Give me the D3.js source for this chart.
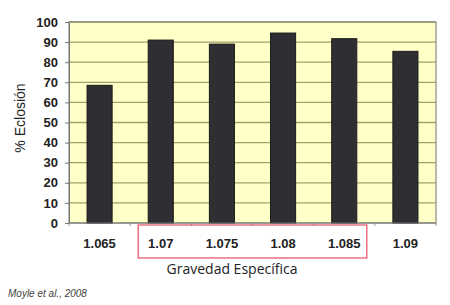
<!DOCTYPE html>
<html>
<head>
<meta charset="utf-8">
<script src="https://cdn.jsdelivr.net/npm/d3@7"></script>
<style>
  body { margin: 0; background: #fff; }
  svg { display: block; }
</style>
</head>
<body>
<div id="chart"></div>
<script>
// data
const gravities = ["1.065", "1.07", "1.075", "1.08", "1.085", "1.09"];
const hatchPct = [68.5, 91, 89, 94.5, 91.7, 85.4];
const yTicks = [0, 10, 20, 30, 40, 50, 60, 70, 80, 90, 100];

const W = 450, H = 305;
const margin = { top: 22, right: 14, bottom: 82, left: 69 };
const width = W - margin.left - margin.right;
const height = H - margin.top - margin.bottom;

const svg = d3.select("#chart").append("svg")
    .attr("width", W)
    .attr("height", H);

const g = svg.append("g")
    .attr("transform", `translate(${margin.left}, ${margin.top})`);

const x = d3.scaleBand()
    .domain(gravities)
    .range([0, width])
    .paddingInner(0.59)
    .paddingOuter(0.295);

const y = d3.scaleLinear()
    .domain([0, 100])
    .range([height, 0]);

// plot background
g.append("rect")
    .attr("width", width)
    .attr("height", height)
    .attr("fill", "#ffffc8");

// gridlines
g.selectAll(".grid")
    .data(yTicks.slice(1))
    .enter().append("line")
    .attr("class", "grid")
    .attr("x1", 0).attr("x2", width)
    .attr("y1", d => y(d)).attr("y2", d => y(d))
    .attr("stroke", "#a2a26c")
    .attr("stroke-width", 1.3);

// plot frame
g.append("rect")
    .attr("width", width)
    .attr("height", height)
    .attr("fill", "none")
    .attr("stroke", "#8a8a80")
    .attr("stroke-width", 1.2);

// bars
g.selectAll(".bar")
    .data(gravities)
    .enter().append("rect")
    .attr("class", "bar")
    .attr("x", d => x(d))
    .attr("width", x.bandwidth())
    .attr("y", (d, i) => y(hatchPct[i]))
    .attr("height", (d, i) => height - y(hatchPct[i]))
    .attr("fill", "#2f2f33")
    .attr("stroke", "#1a1a1a")
    .attr("stroke-width", 1);

// y axis
const yAxis = g.append("g")
    .call(d3.axisLeft(y).tickValues(yTicks).tickSize(4).tickPadding(7));
yAxis.select(".domain").attr("stroke", "#777");
yAxis.selectAll(".tick line").attr("stroke", "#777");
yAxis.selectAll("text")
    .attr("font-family", "Liberation Sans, Arial, sans-serif")
    .attr("font-weight", "bold")
    .attr("font-size", 13)
    .attr("fill", "#222");

// x axis: ticks at category boundaries, labels centered
const xAxis = g.append("g")
    .attr("transform", `translate(0, ${height})`);
xAxis.append("line")
    .attr("x1", 0).attr("x2", width)
    .attr("stroke", "#777");
const step = x.step();
xAxis.selectAll(".xtick")
    .data(d3.range(gravities.length + 1))
    .enter().append("line")
    .attr("x1", i => i * step).attr("x2", i => i * step)
    .attr("y1", 0).attr("y2", 3)
    .attr("stroke", "#999");
xAxis.selectAll(".xlabel")
    .data(gravities)
    .enter().append("text")
    .attr("x", d => x(d) + x.bandwidth() / 2)
    .attr("y", 25)
    .attr("text-anchor", "middle")
    .attr("font-family", "Liberation Sans, Arial, sans-serif")
    .attr("font-weight", "bold")
    .attr("font-size", 13)
    .attr("fill", "#222")
    .text(d => d);

// red highlight box around middle categories
const first = x("1.07"), last = x("1.085") + x.bandwidth();
svg.append("rect")
    .attr("x", margin.left + first - 10)
    .attr("y", margin.top + height + 2)
    .attr("width", last - first + 20)
    .attr("height", 33)
    .attr("fill", "none")
    .attr("stroke", "#e85a6e")
    .attr("stroke-width", 1.3);

// axis titles
svg.append("text")
    .attr("x", 232)
    .attr("y", 274)
    .attr("text-anchor", "middle")
    .attr("font-family", "Open Sans, sans-serif")
    .attr("font-size", 14)
    .attr("fill", "#222")
    .text("Gravedad Específica");

svg.append("text")
    .attr("transform", `translate(25, 118) rotate(-90)`)
    .attr("text-anchor", "middle")
    .attr("font-family", "Liberation Sans, Arial, sans-serif")
    .attr("font-size", 14)
    .attr("fill", "#222")
    .text("% Eclosión");

// source
svg.append("text")
    .attr("x", 8)
    .attr("y", 297)
    .attr("font-family", "Liberation Sans, Arial, sans-serif")
    .attr("font-style", "italic")
    .attr("font-size", 10)
    .attr("fill", "#444")
    .text("Moyle et al., 2008");
</script>
</body>
</html>
